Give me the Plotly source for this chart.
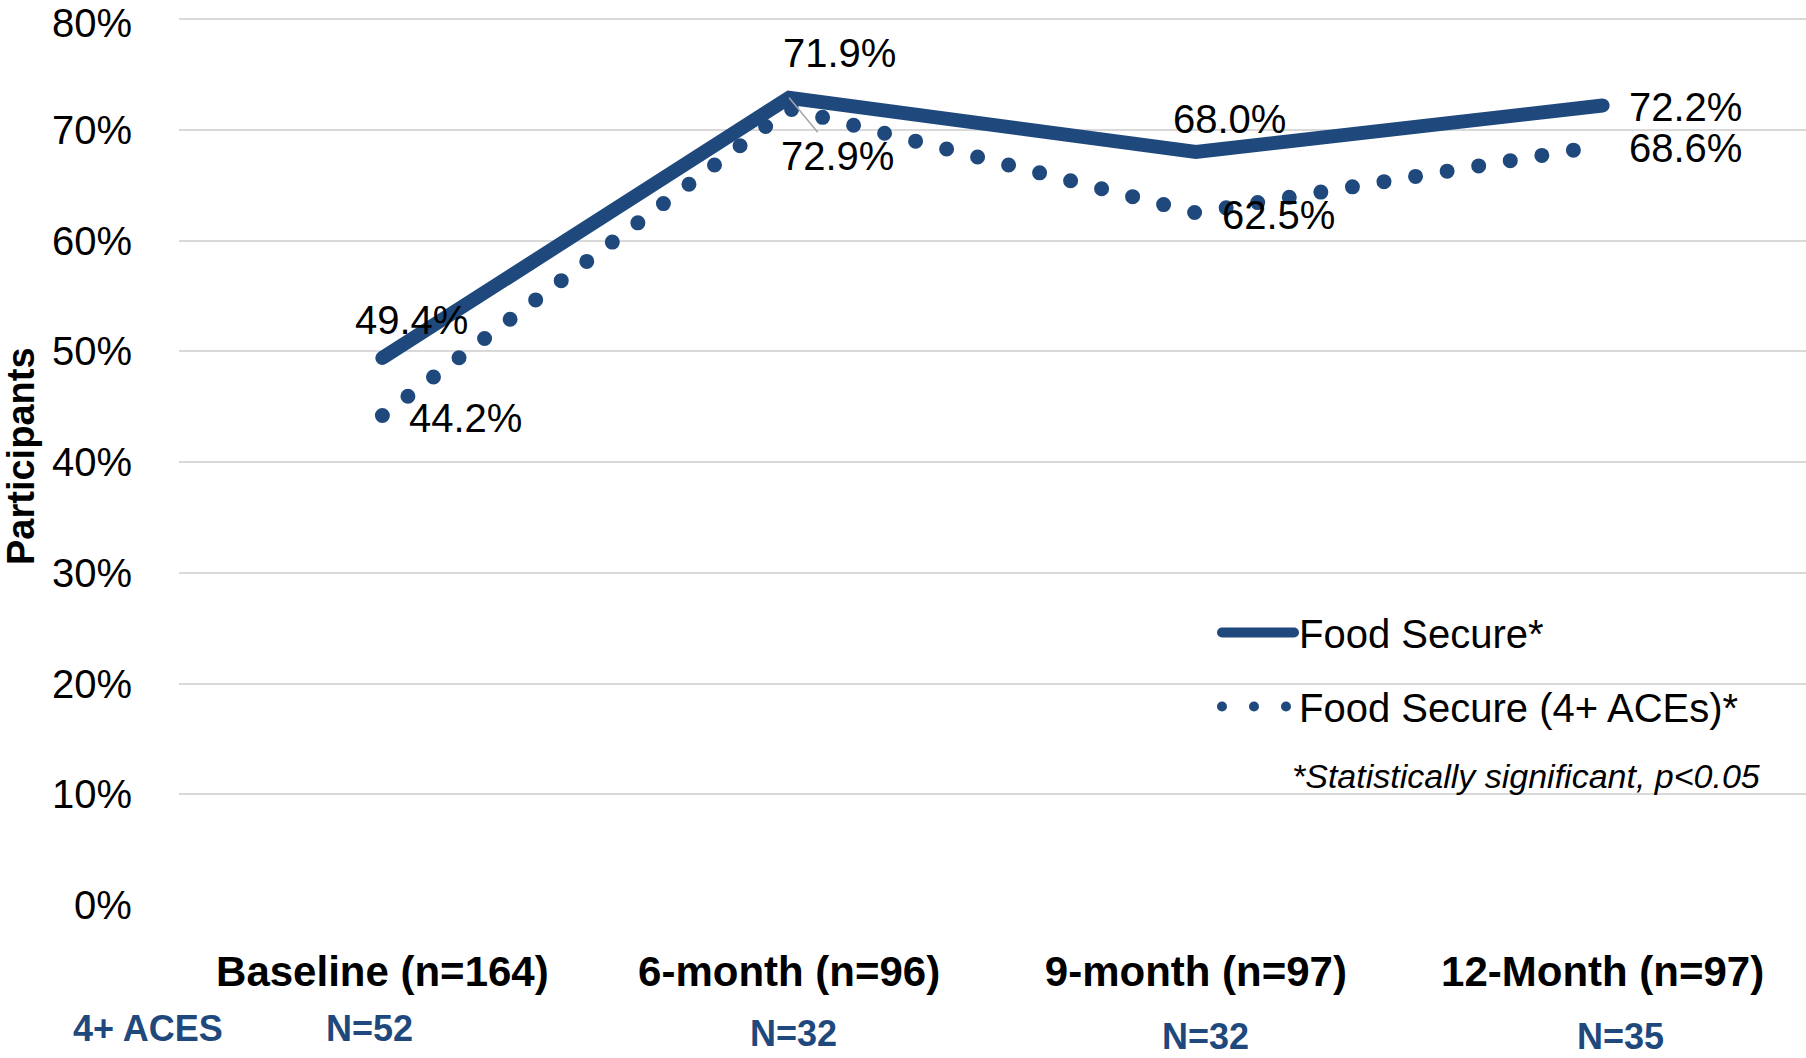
import plotly.graph_objects as go

# ---- data ----
categories = ["Baseline (n=164)", "6-month (n=96)", "9-month (n=97)", "12-Month (n=97)"]
food_secure = [49.4, 72.9, 68.0, 72.2]
food_secure_aces = [44.2, 71.9, 62.5, 68.6]
aces_n_labels = ["N=52", "N=32", "N=32", "N=35"]
series_names = ["Food Secure*", "Food Secure (4+ ACEs)*"]
y_ticks = [0, 10, 20, 30, 40, 50, 60, 70, 80]

# ---- styling ----
BLUE = "#1F497D"
FONT = "Liberation Sans, Arial, sans-serif"
W, H = 1806, 1058
L, R, T, B = 179, 0, 8, 153
Y_TOP = 81
PH = H - T - B  # plot height in px


def ypaper(px):
    return (H - B - px) / PH


def xpaper(px):
    return (px - L) / (W - L - R)


fig = go.Figure()
fig.add_trace(go.Scatter(
    x=categories, y=food_secure, mode="lines", name=series_names[0],
    line=dict(color=BLUE, width=14), legendgroup="a",
))
fig.add_trace(go.Scatter(
    x=categories, y=food_secure_aces, mode="lines", name=series_names[1],
    line=dict(color=BLUE, width=15, dash="0px,32px"), legendgroup="b",
))

annotations = []
# y tick labels (drawn as annotations so the top one is not hidden at the edge)
for t in y_ticks:
    annotations.append(dict(
        x=xpaper(133), xref="paper", y=t, yref="y", text=f"{t}%",
        showarrow=False, xanchor="right", yanchor="middle",
        yshift=-4 if t == max(y_ticks) else 0, borderpad=0,
        font=dict(family=FONT, size=40, color="black"),
    ))

# data labels (offsets in px, relative to each point)
fs_offsets = [(29, 38), (48, -58), (34, 33), (83, -2)]
ac_offsets = [(83, -2), (50, 56), (83, -2), (83, -3)]
for i, (c, v) in enumerate(zip(categories, food_secure)):
    dx, dy = fs_offsets[i]
    if i == 1:
        annotations.append(dict(
            x=c, y=v, xref="x", yref="y", text=f"{v:.1f}%",
            showarrow=True, ax=dx, ay=-dy, arrowhead=0, arrowwidth=1.5,
            arrowcolor="#A6A6A6", standoff=0,
            font=dict(family=FONT, size=40, color="black"),
        ))
    else:
        annotations.append(dict(
            x=c, y=v, xref="x", yref="y", text=f"{v:.1f}%", showarrow=False,
            xshift=dx, yshift=dy, font=dict(family=FONT, size=40, color="black"),
        ))
for i, (c, v) in enumerate(zip(categories, food_secure_aces)):
    dx, dy = ac_offsets[i]
    annotations.append(dict(
        x=c, y=v, xref="x", yref="y", text=f"{v:.1f}%", showarrow=False,
        xshift=dx, yshift=dy, font=dict(family=FONT, size=40, color="black"),
    ))

# 4+ ACES sample sizes under the axis
n_xshift = [-13, 4, 10, 18]
n_ypix = [1028, 1033, 1036, 1036]
for i, (c, lab) in enumerate(zip(categories, aces_n_labels)):
    annotations.append(dict(
        x=c, xref="x", y=ypaper(n_ypix[i]), yref="paper",
        text=f"<b>{lab}</b>", showarrow=False, xshift=n_xshift[i],
        xanchor="center", yanchor="middle",
        font=dict(family=FONT, size=36, color=BLUE),
    ))
annotations.append(dict(
    x=xpaper(148), xref="paper", y=ypaper(1028), yref="paper",
    text="<b>4+ ACES</b>", showarrow=False, xanchor="center", yanchor="middle",
    font=dict(family=FONT, size=36, color=BLUE),
))
# y axis title
annotations.append(dict(
    x=xpaper(21), xref="paper", y=ypaper(456), yref="paper",
    text="<b>Participants</b>", textangle=-90, showarrow=False,
    xanchor="center", yanchor="middle", borderpad=0,
    font=dict(family=FONT, size=38, color="black"),
))
# significance note
annotations.append(dict(
    x=xpaper(1762), xref="paper", y=ypaper(776), yref="paper",
    text="<i>*Statistically significant, p<0.05</i>", showarrow=False,
    xanchor="right", yanchor="middle",
    font=dict(family=FONT, size=34, color="black"),
))

fig.update_layout(
    width=W, height=H,
    margin=dict(l=L, r=R, t=T, b=B, pad=0),
    paper_bgcolor="white", plot_bgcolor="white",
    font=dict(family=FONT, color="black"),
    showlegend=True,
    legend=dict(
        x=xpaper(1217), y=ypaper(600),
        xanchor="left", yanchor="top",
        bgcolor="rgba(0,0,0,0)", font=dict(family=FONT, size=40, color="black"),
        itemwidth=72, traceorder="grouped", tracegroupgap=19,
    ),
    xaxis=dict(
        type="category", range=[-0.5, 3.5], showgrid=False, zeroline=False,
        showline=False, ticks="", ticklabelstandoff=38,
        tickfont=dict(family=FONT, size=42, color="black"),
        tickvals=categories, ticktext=[f"<b>{c}</b>" for c in categories],
    ),
    yaxis=dict(
        range=[0, Y_TOP], tickvals=y_ticks, showticklabels=False,
        showgrid=True, gridcolor="#D9D9D9", gridwidth=2, zeroline=False,
        showline=False, ticks="",
    ),
    annotations=annotations,
)

post = """
var s = document.createElement('style');
s.textContent = 'html,body{margin:0;padding:0;overflow:hidden;} .js-line{stroke-linecap:round !important;}';
document.head.appendChild(s);
"""
fig.write_html("out.html", post_script=post, config={"displayModeBar": False})
